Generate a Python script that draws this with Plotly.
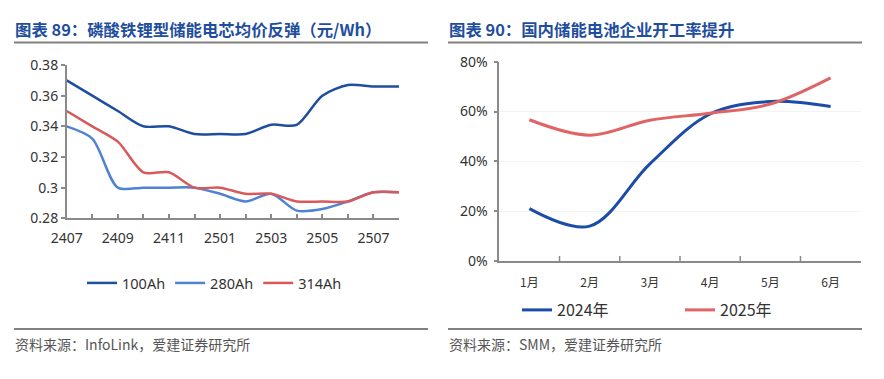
import plotly.graph_objects as go

# ---- Left chart data ----
months = ["2407", "2408", "2409", "2410", "2411", "2412", "2501", "2502",
          "2503", "2504", "2505", "2506", "2507", "2508"]
month_ticktext = ["2407", "", "2409", "", "2411", "", "2501", "", "2503", "",
                  "2505", "", "2507", ""]
price_100ah = [0.370, 0.360, 0.350, 0.340, 0.340, 0.335, 0.335, 0.335,
               0.341, 0.341, 0.360, 0.367, 0.366, 0.366]
price_280ah = [0.340, 0.332, 0.300, 0.300, 0.300, 0.300, 0.296, 0.291,
               0.296, 0.285, 0.286, 0.291, 0.297, 0.297]
price_314ah = [0.350, 0.340, 0.330, 0.310, 0.310, 0.300, 0.300, 0.296,
               0.296, 0.291, 0.291, 0.291, 0.297, 0.297]
left_yticks = [0.28, 0.30, 0.32, 0.34, 0.36, 0.38]
left_yticktext = ["0.28", "0.3", "0.32", "0.34", "0.36", "0.38"]

# ---- Right chart data ----
mon_cn = ["1月", "2月", "3月", "4月", "5月", "6月"]
rate_2024 = [0.21, 0.14, 0.39, 0.59, 0.64, 0.62]
rate_2025 = [0.567, 0.505, 0.565, 0.593, 0.63, 0.735]

W, H = 884, 379


def px(x):
    return x / W


def py(y):
    return 1 - y / H


CJK = "Noto Sans CJK SC"
NUM = "Noto Sans, Noto Sans CJK SC"
TITLE_BLUE = "#1F4E9E"
AXIS = "#8a8a8a"

fig = go.Figure()

fig.add_trace(go.Scatter(x=months, y=price_100ah, name="100Ah", mode="lines",
                         line=dict(color="#1F4E9F", width=2.5, shape="spline", smoothing=0.8),
                         xaxis="x", yaxis="y", legend="legend"))
fig.add_trace(go.Scatter(x=months, y=price_280ah, name="280Ah", mode="lines",
                         line=dict(color="#4F82D3", width=2.5, shape="spline", smoothing=0.8),
                         xaxis="x", yaxis="y", legend="legend"))
fig.add_trace(go.Scatter(x=months, y=price_314ah, name="314Ah", mode="lines",
                         line=dict(color="#D9595A", width=2.5, shape="spline", smoothing=0.8),
                         xaxis="x", yaxis="y", legend="legend"))

fig.add_trace(go.Scatter(x=mon_cn, y=rate_2024, name="2024年", mode="lines",
                         line=dict(color="#1A4CA8", width=3, shape="spline", smoothing=1.0),
                         xaxis="x2", yaxis="y2", legend="legend2"))
fig.add_trace(go.Scatter(x=mon_cn, y=rate_2025, name="2025年", mode="lines",
                         line=dict(color="#E06464", width=3, shape="spline", smoothing=1.0),
                         xaxis="x2", yaxis="y2", legend="legend2"))

fig.update_layout(
    template="none",
    width=W, height=H,
    margin=dict(l=0, r=0, t=0, b=0, pad=0, autoexpand=False),
    paper_bgcolor="white", plot_bgcolor="white",
    font=dict(family=NUM, color="#333333", size=13),
    xaxis=dict(domain=[px(66.7), px(399)], type="category", range=[0, 13],
               tickmode="array", tickvals=months, ticktext=month_ticktext,
               ticks="inside", ticklen=5, tickcolor=AXIS, tickwidth=1.5,
               ticklabelstandoff=6,
               showline=True, linecolor=AXIS, linewidth=1.5,
               showgrid=False, zeroline=False, automargin=False,
               tickfont=dict(size=14, family=NUM, color="#333")),
    yaxis=dict(domain=[py(218.3), py(65)], range=[0.28, 0.38],
               tickmode="array", tickvals=left_yticks, ticktext=left_yticktext,
               ticks="outside", ticklen=4, tickcolor=AXIS, tickwidth=1.5,
               showline=True, linecolor=AXIS, linewidth=1.5,
               showgrid=False, zeroline=False, automargin=False,
               tickfont=dict(size=14, family=NUM, color="#333")),
    xaxis2=dict(domain=[px(499.3), px(860.7)], type="category", range=[-0.5, 5.5],
                ticks="", showline=True, linecolor=AXIS, linewidth=1.5,
                ticklabelstandoff=10,
                showgrid=False, zeroline=False, automargin=False,
                tickfont=dict(size=12, family=CJK, color="#333"), anchor="y2"),
    yaxis2=dict(domain=[py(261), py(61.7)], range=[0, 0.8], dtick=0.2,
                tickformat=".0%", ticks="outside", ticklen=4, tickcolor=AXIS, tickwidth=1.5,
                ticklabelstandoff=3,
                showline=True, linecolor=AXIS, linewidth=1.5,
                showgrid=True, gridcolor="#f3f3f3", zeroline=False, automargin=False,
                tickfont=dict(size=14, family=NUM, color="#333"), anchor="x2"),
    legend=dict(orientation="h", x=px(82), xanchor="left", y=py(283), yanchor="middle",
                font=dict(size=14.5, family=NUM, color="#333"),
                bgcolor="rgba(0,0,0,0)", itemwidth=30),
    legend2=dict(orientation="h", x=px(517), xanchor="left", y=py(310), yanchor="middle",
                 font=dict(size=16, family=CJK, color="#333"),
                 bgcolor="rgba(0,0,0,0)", entrywidth=118, itemwidth=30),
    showlegend=True,
)

# Titles
fig.add_annotation(text="<b>图表 89：磷酸铁锂型储能电芯均价反弹（元/Wh）</b>", xref="paper", yref="paper",
                   x=px(13), y=py(29), xanchor="left", yanchor="middle", showarrow=False,
                   font=dict(family=CJK, size=16.4, color=TITLE_BLUE))
fig.add_annotation(text="<b>图表 90：国内储能电池企业开工率提升</b>", xref="paper", yref="paper",
                   x=px(447), y=py(29), xanchor="left", yanchor="middle", showarrow=False,
                   font=dict(family=CJK, size=16.4, color=TITLE_BLUE))
# Sources
fig.add_annotation(text="资料来源：InfoLink，爱建证券研究所", xref="paper", yref="paper",
                   x=px(13), y=py(344), xanchor="left", yanchor="middle", showarrow=False,
                   font=dict(family=CJK, size=14, color="#555"))
fig.add_annotation(text="资料来源：SMM，爱建证券研究所", xref="paper", yref="paper",
                   x=px(447), y=py(344), xanchor="left", yanchor="middle", showarrow=False,
                   font=dict(family=CJK, size=14, color="#555"))

# Separator lines
for x0, x1 in [(14, 428), (448, 862)]:
    for yy in (42.5, 329):
        fig.add_shape(type="line", xref="paper", yref="paper",
                      x0=px(x0), x1=px(x1), y0=py(yy), y1=py(yy),
                      line=dict(color="#808080", width=2))

# Right x-axis tick marks between categories
for i in range(1, 6):
    fig.add_shape(type="line", xref="x2", yref="paper",
                  x0=i - 0.5, x1=i - 0.5, y0=py(261), y1=py(256),
                  line=dict(color=AXIS, width=1.5))

fig.write_html("out.html", config={"displayModeBar": False},
               post_script="document.body.style.margin='0';document.body.style.overflow='hidden';")
